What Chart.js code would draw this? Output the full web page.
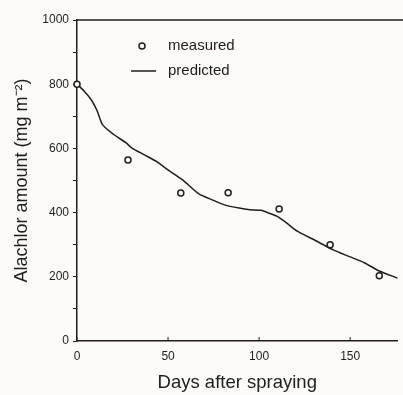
<!DOCTYPE html>
<html>
<head>
<meta charset="utf-8">
<script src="https://cdn.jsdelivr.net/npm/chart.js@4.4.1/dist/chart.umd.min.js"></script>
<style>
  html, body { margin: 0; padding: 0; background: #fcfbf7; }
  #wrap { width: 403px; height: 395px; }
</style>
</head>
<body>
<div id="wrap"><canvas id="chart" width="403" height="395"></canvas></div>
<script>
// measured points
const measuredDays = [0, 28, 57, 83, 111, 139, 166];
const measuredVals = [800, 564, 461, 462, 411, 300, 203];

// predicted curve
const predDays = [0, 4, 8, 11, 14, 20, 27, 30, 37, 44, 50, 58, 67, 75, 81, 89, 95, 101, 106, 110, 115, 121, 132, 141, 150, 158, 166, 176];
const predVals = [800, 778, 750, 718, 674, 644, 617, 602, 580, 558, 533, 502, 458, 438, 424, 414, 409, 407, 397, 388, 368, 342, 310, 283, 262, 243, 218, 196];

const yTickStep = 100;
const xTickStep = 50;

const ink = '#1e1e1e';
const font = 'Liberation Sans, Arial, Helvetica, sans-serif';

// draws the top frame line, inward x ticks and the in-plot legend
const extras = {
    id: 'extras',
    afterDraw(chart) {
        const ctx = chart.ctx;
        const area = chart.chartArea;
        const xs = chart.scales.x;
        ctx.save();
        ctx.strokeStyle = ink;
        ctx.lineWidth = 1.5;
        ctx.beginPath();
        ctx.moveTo(area.left, area.top);
        ctx.lineTo(chart.width, area.top);
        ctx.stroke();

        // x ticks pointing up into the plot
        ctx.lineWidth = 1;
        xs.ticks.forEach(t => {
            const px = xs.getPixelForValue(t.value);
            ctx.beginPath();
            ctx.moveTo(px, area.bottom);
            ctx.lineTo(px, area.bottom - 4);
            ctx.stroke();
        });

        // legend
        ctx.fillStyle = ink;
        ctx.font = '15px ' + font;
        ctx.textBaseline = 'middle';
        ctx.textAlign = 'left';
        ctx.lineWidth = 1.5;
        ctx.beginPath();
        ctx.arc(142, 46, 3, 0, Math.PI * 2);
        ctx.stroke();
        ctx.fillText('measured', 168, 46);
        ctx.beginPath();
        ctx.moveTo(131, 71);
        ctx.lineTo(156, 71);
        ctx.stroke();
        ctx.fillText('predicted', 168, 71);
        ctx.restore();
    }
};

const bg = {
    id: 'bg',
    beforeDraw(chart) {
        const ctx = chart.ctx;
        ctx.save();
        ctx.fillStyle = '#fcfbf7';
        ctx.fillRect(0, 0, chart.width, chart.height);
        ctx.restore();
    }
};

new Chart(document.getElementById('chart'), {
    type: 'scatter',
    data: {
        datasets: [
            {
                label: 'predicted',
                data: predDays.map((d, i) => ({ x: d, y: predVals[i] })),
                showLine: true,
                borderColor: ink,
                borderWidth: 1.5,
                pointRadius: 0,
                tension: 0.25,
                order: 2
            },
            {
                label: 'measured',
                data: measuredDays.map((d, i) => ({ x: d, y: measuredVals[i] })),
                showLine: false,
                borderColor: ink,
                backgroundColor: '#fcfbf7',
                borderWidth: 1.5,
                pointRadius: 3,
                order: 1
            }
        ]
    },
    options: {
        responsive: false,
        animation: false,
        clip: false,
        layout: { padding: { top: 20, right: 0, left: 0, bottom: 0 } },
        plugins: {
            legend: { display: false },
            tooltip: { enabled: false }
        },
        scales: {
            x: {
                type: 'linear',
                min: 0,
                max: 176,
                afterFit(s) { s.height = 54; },
                grid: { drawOnChartArea: false, drawTicks: false },
                border: { color: ink, width: 1.5 },
                ticks: {
                    stepSize: xTickStep,
                    includeBounds: false,
                    padding: 8,
                    color: ink,
                    font: { family: font, size: 12 }
                },
                title: {
                    display: true,
                    text: 'Days after spraying',
                    color: ink,
                    font: { family: font, size: 18.5 },
                    padding: { top: 0, bottom: 1 }
                }
            },
            y: {
                min: 0,
                max: 1000,
                afterFit(s) { s.width = 77; },
                grid: { drawOnChartArea: false, drawTicks: true, tickLength: 4, color: ink },
                border: { color: ink, width: 1.5 },
                ticks: {
                    stepSize: yTickStep,
                    padding: 4,
                    color: ink,
                    font: { family: font, size: 12 },
                    callback: v => (v % 200 === 0 ? String(v) : '')
                },
                title: {
                    display: true,
                    text: 'Alachlor amount (mg m\u207B\u00B2)',
                    color: ink,
                    font: { family: font, size: 18 },
                    padding: { top: 11, bottom: 0 }
                }
            }
        }
    },
    plugins: [bg, extras]
});
</script>
</body>
</html>
